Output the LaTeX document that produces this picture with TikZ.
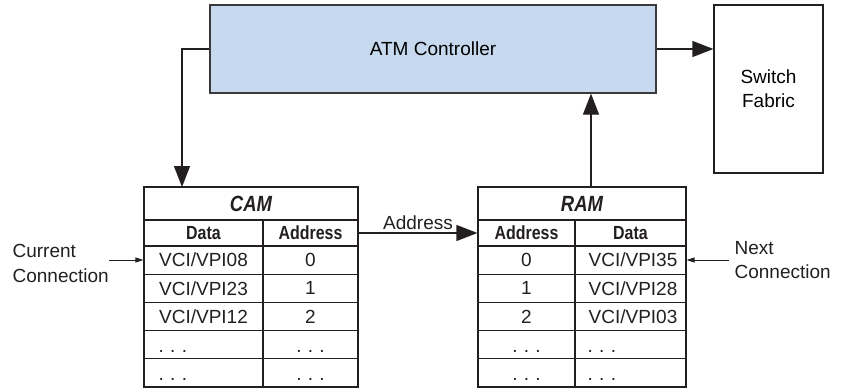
\documentclass[tikz,border=0pt]{standalone}
\usepackage{fontspec}
\setmainfont{Liberation Sans}
\newfontfamily\hdrfont[FakeStretch=0.84]{Liberation Sans}
\usetikzlibrary{arrows.meta}
\definecolor{ink}{HTML}{231F20}
\definecolor{ctrlfill}{HTML}{C6D9EE}
\definecolor{ctrledge}{HTML}{3A3A3A}

\begin{document}
\begin{tikzpicture}[x=1pt,y=-1pt,
  font=\fontsize{19}{24}\selectfont,
  line width=1.2pt, draw=ink,
  box/.style={draw=ink, line width=1.2pt, inner sep=0pt, rectangle},
  cell/.style={inner sep=0pt, text=ink},
  hdr/.style={cell, font=\hdrfont\bfseries\fontsize{19}{24}\selectfont},
  ttl/.style={cell, font=\hdrfont\bfseries\itshape\fontsize{22}{24}\selectfont},
  dots/.style={cell, anchor=base},
  dotsl/.style={cell, anchor=base west},
  bigarrow/.style={draw=ink, line width=1.2pt, -{Triangle[length=21pt,width=16pt]}},
  smallarrow/.style={draw=ink, line width=1pt, -{Triangle[length=8pt,width=5pt]}},
  label/.style={inner sep=0pt, text=ink, align=left}
]
\useasboundingbox (0,0) rectangle (847,388);

% top row: controller and switch fabric
\node[box, fill=ctrlfill, draw=ctrledge, minimum width=446pt, minimum height=88pt]
  (atm) at (433,49) {ATM Controller};
\node[box, minimum width=109pt, minimum height=168pt, align=center]
  (sw) at (768.5,89) {Switch\\Fabric};

% CAM table
\node[box, minimum width=214pt, minimum height=200pt] (cam) at (251,287) {};
\foreach \yy in {220,246,274.2,302.4,330.6,358.8}
  \draw[ink, line width=1.2pt] (144,\yy) -- (358,\yy);
\draw[ink, line width=1.2pt] (263,220) -- (263,387);
\node[ttl] (camttl) at (251,204) {CAM};
\node[hdr] (camhd) at (203.5,233) {Data};
\node[hdr] (camha) at (310.5,233) {Address};
\node[cell] (camd0) at (203.5,260) {VCI/VPI08};
\node[cell] (cama0) at (310.5,260) {0};
\node[cell] (camd1) at (203.5,288.3) {VCI/VPI23};
\node[cell] (cama1) at (310.5,288.3) {1};
\node[cell] (camd2) at (203.5,316.5) {VCI/VPI12};
\node[cell] (cama2) at (310.5,316.5) {2};
\node[dotsl] (camd3) at (158,352) {.\,\,.\,\,.};
\node[dots]  (cama3) at (310.5,352) {.\,\,.\,\,.};
\node[dotsl] (camd4) at (158,380) {.\,\,.\,\,.};
\node[dots]  (cama4) at (310.5,380) {.\,\,.\,\,.};

% RAM table
\node[box, minimum width=208pt, minimum height=200pt] (ram) at (582,287) {};
\foreach \yy in {220,246,274.2,302.4,330.6,358.8}
  \draw[ink, line width=1.2pt] (478,\yy) -- (686,\yy);
\draw[ink, line width=1.2pt] (575,220) -- (575,387);
\node[ttl] (ramttl) at (582,204) {RAM};
\node[hdr] (ramha) at (526.5,233) {Address};
\node[hdr] (ramhd) at (630.5,233) {Data};
\node[cell] (rama0) at (526.5,260) {0};
\node[cell] (ramd0) at (633,260) {VCI/VPI35};
\node[cell] (rama1) at (526.5,288.3) {1};
\node[cell] (ramd1) at (633,288.3) {VCI/VPI28};
\node[cell] (rama2) at (526.5,316.5) {2};
\node[cell] (ramd2) at (633,316.5) {VCI/VPI03};
\node[dots]  (rama3) at (526.5,352) {.\,\,.\,\,.};
\node[dotsl] (ramd3) at (587,352) {.\,\,.\,\,.};
\node[dots]  (rama4) at (526.5,380) {.\,\,.\,\,.};
\node[dotsl] (ramd4) at (587,380) {.\,\,.\,\,.};

% side labels
\node[label, anchor=west, font=\fontsize{19}{25}\selectfont] (cur) at (12,263) {Current\\Connection};
\node[label, anchor=west, font=\fontsize{19}{24}\selectfont, inner xsep=5pt] (nxt) at (729,260) {Next\\Connection};

% connector helpers
\coordinate (camin) at (182,187);
\coordinate (ramup) at (591,0);
\coordinate (hdrrow) at (0,233);
\coordinate (row0) at (0,260);

% connectors
\draw[bigarrow] (atm.west) -| (camin);
\draw[bigarrow] (ram.north -| ramup) -- (atm.south -| ramup);
\draw[bigarrow] (atm.east) -- (atm.east -| sw.west);
\draw[bigarrow] (cam.east |- hdrrow) -- node[above=3pt, text=ink, inner sep=0pt] (addrlbl) {Address} (ram.west |- hdrrow);
\draw[smallarrow] (cur.east |- row0) -- (cam.west |- row0);
\draw[smallarrow] (nxt.west |- row0) -- (ram.east |- row0);
\end{tikzpicture}
\end{document}
